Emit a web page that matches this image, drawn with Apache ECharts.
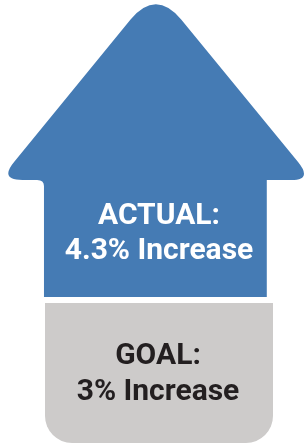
<!DOCTYPE html>
<html>
<head>
<meta charset="utf-8">
<script src="https://cdn.jsdelivr.net/npm/echarts@6/dist/echarts.min.js"></script>
<style>
  html, body { margin: 0; padding: 0; background: #fff; }
  #main { width: 304px; height: 444px; }
</style>
</head>
<body>
<div id="main"></div>
<script>
// 数据
var names = ['ACTUAL', 'GOAL'];
var values = [4.3, 3];
var suffix = '% Increase';

var myChart = echarts.init(document.getElementById('main'));

// 箭头路径 (上半部分 + 柱身), 两个角点用来固定包围盒
var arrowPath = 'M0,0 L0,0.01 M304,444 L304,443.99 ' +
    'M14.6,161.7 L133.6,19.5 Q159.5,-11 185.4,19.5 L305,162 Q320,180 298,180 ' +
    'L273,180 L273,297 L45,297 L45,186 Q45,180 38,180 L23,180 Q-1,180 14.6,161.7 Z';

function renderItem(params, api) {
    var i = params.dataIndex;
    var line1 = names[i] + ':';
    var line2 = values[i] + suffix;
    var font = 'bold 30px Roboto';
    if (i === 0) {
        return {
            type: 'group',
            children: [{
                type: 'path',
                shape: { pathData: arrowPath, x: 0, y: 0, width: 304, height: 444, layout: 'cover' },
                style: { fill: '#457bb4' }
            }, {
                type: 'text',
                style: { text: line1, x: 159, y: 216, font: font, fill: '#fff', align: 'center', verticalAlign: 'middle' }
            }, {
                type: 'text',
                style: { text: line2, x: 159, y: 251, font: font, fill: '#fff', align: 'center', verticalAlign: 'middle' }
            }]
        };
    }
    return {
        type: 'group',
        children: [{
            type: 'rect',
            shape: { x: 45, y: 303, width: 228, height: 140, r: [0, 0, 27, 27] },
            style: { fill: '#cdcbca' }
        }, {
            type: 'text',
            style: { text: line1, x: 158, y: 356, font: font, fill: '#231f20', align: 'center', verticalAlign: 'middle' }
        }, {
            type: 'text',
            style: { text: line2, x: 158, y: 392, font: font, fill: '#231f20', align: 'center', verticalAlign: 'middle' }
        }]
    };
}

var option = {
    animation: false,
    series: [{
        type: 'custom',
        coordinateSystem: 'none',
        renderItem: renderItem,
        data: values
    }]
};
myChart.setOption(option);
</script>
</body>
</html>
